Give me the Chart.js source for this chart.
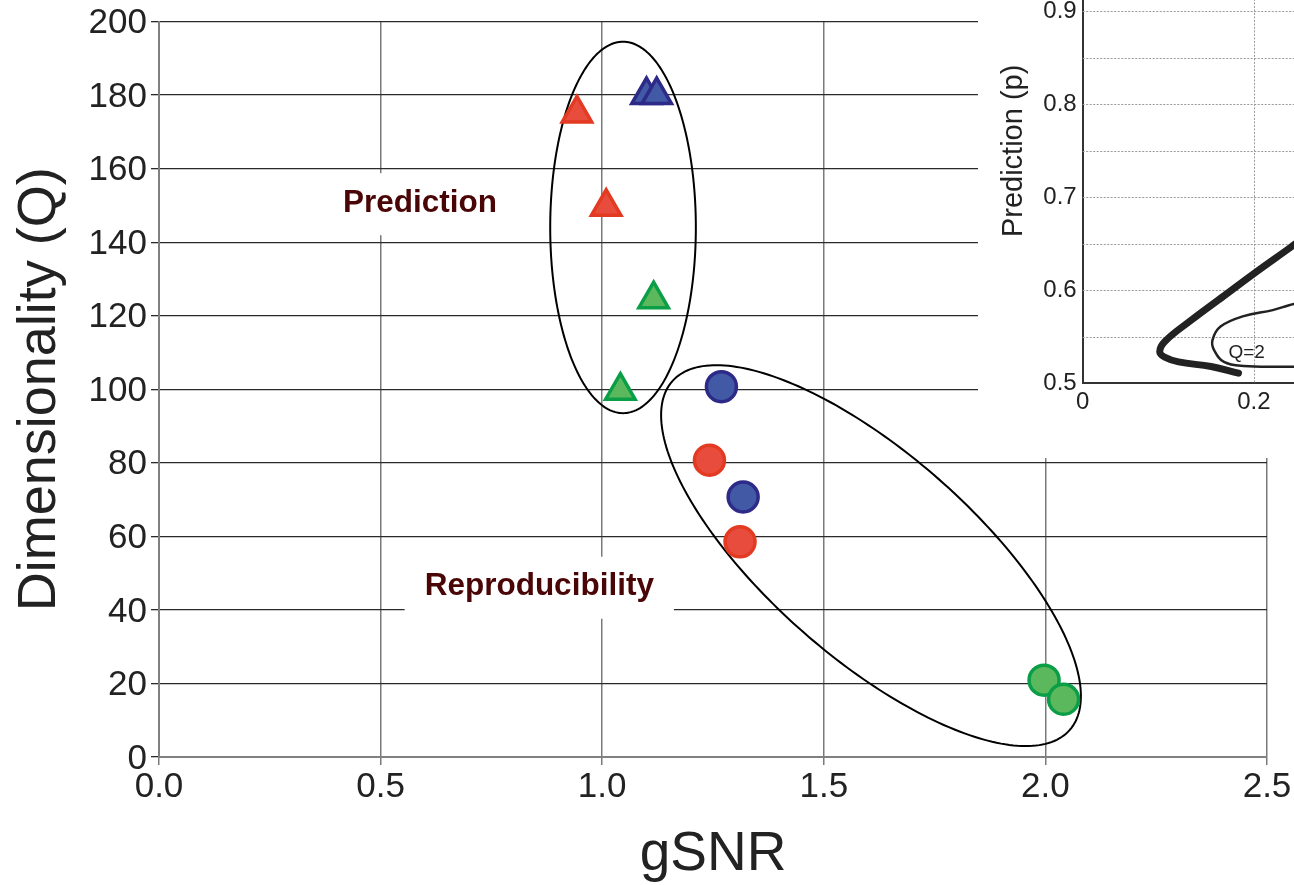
<!DOCTYPE html>
<html>
<head>
<meta charset="utf-8">
<script src="https://cdn.jsdelivr.net/npm/chart.js@4.4.1/dist/chart.umd.min.js"></script>
<style>
  html, body { margin: 0; padding: 0; background: #fff; overflow: hidden; width: 1294px; height: 885px; }
  #wrap { position: relative; width: 1294px; height: 885px; overflow: hidden; }
  #main { position: absolute; left: 0; top: 0; }
  #inset { position: absolute; left: 978px; top: -102px; background: #fff; }
</style>
</head>
<body>
<div id="wrap">
  <canvas id="main" width="1294" height="885"></canvas>
  <canvas id="inset" width="640" height="560"></canvas>
</div>
<script>
// main plot: gSNR vs dimensionality (Q)
const predRedX = [0.943, 1.009];
const predRedQ = [175, 149.6];
const predBlueX = [1.100, 1.123];
const predBlueQ = [180, 180];
const predGreenX = [1.116, 1.041];
const predGreenQ = [124.5, 99.6];

const repBlueX = [1.269, 1.318];
const repBlueQ = [100.7, 70.7];
const repRedX = [1.242, 1.311];
const repRedQ = [80.7, 58.5];
const repGreenX = [1.997, 2.041];
const repGreenQ = [20.9, 15.7];

// inset: prediction (p) curves
const thickX = [0.182, 0.150, 0.112, 0.096, 0.090, 0.096, 0.127, 0.165, 0.200, 0.241, 0.250];
const thickP = [0.511, 0.518, 0.523, 0.528, 0.534, 0.545, 0.568, 0.594, 0.618, 0.645, 0.651];
const thinX = [0.250, 0.241, 0.188, 0.165, 0.1535, 0.1516, 0.161, 0.188, 0.222, 0.241, 0.250];
const thinP = [0.5178, 0.5178, 0.5186, 0.523, 0.5357, 0.5465, 0.561, 0.5722, 0.5787, 0.584, 0.586];

// group outlines (center, end of one axis, end of other axis) and labels
const groupEllipses = [
  { c: [1.047, 144.0], a: [1.047, 194.5], b: [1.2113, 144.0] },
  { c: [1.6065, 54.76], a: [2.055, 7.36], b: [1.4544, 33.89] }
];
const groupLabels = [
  { text: 'Prediction', x: 0.589, y: 150.6 },
  { text: 'Reproducibility', x: 0.858, y: 46.3 }
];
const insetLabel = { text: 'Q=2', x: 0.1916, y: 0.5325 };

const FONT = '"Liberation Sans", Arial, Helvetica, sans-serif';
Chart.defaults.font.family = FONT;

const red = { fill: '#e84c3d', line: '#e33a22' };
const blue = { fill: '#4259a6', line: '#2e2a88' };
const green = { fill: '#5cb85c', line: '#0a9e47' };

function pts(xs, ys) {
  return xs.map((x, i) => ({ x: x, y: ys[i] }));
}

function marks(xs, ys, style, col) {
  return {
    data: pts(xs, ys),
    pointStyle: style,
    pointRadius: style === 'triangle' ? 17 : 15,
    backgroundColor: col.fill,
    borderColor: col.line,
    borderWidth: 3.5
  };
}

const whiteBg = {
  id: 'whiteBg',
  beforeDraw(chart) {
    const ctx = chart.ctx;
    ctx.save();
    ctx.fillStyle = '#fff';
    ctx.fillRect(0, 0, chart.width, chart.height);
    ctx.restore();
  }
};

const groups = {
  id: 'groups',
  beforeDatasetsDraw(chart) {
    const ctx = chart.ctx, xs = chart.scales.x, ys = chart.scales.y;
    ctx.save();
    // outlines
    ctx.strokeStyle = '#000';
    ctx.lineWidth = 2;
    groupEllipses.forEach(e => {
      const cx = xs.getPixelForValue(e.c[0]), cy = ys.getPixelForValue(e.c[1]);
      const ax = xs.getPixelForValue(e.a[0]) - cx, ay = ys.getPixelForValue(e.a[1]) - cy;
      const bx = xs.getPixelForValue(e.b[0]) - cx, by = ys.getPixelForValue(e.b[1]) - cy;
      ctx.beginPath();
      for (let i = 0; i <= 240; i++) {
        const t = i / 240 * Math.PI * 2;
        const px = cx + ax * Math.cos(t) + bx * Math.sin(t);
        const py = cy + ay * Math.cos(t) + by * Math.sin(t);
        if (i === 0) ctx.moveTo(px, py); else ctx.lineTo(px, py);
      }
      ctx.closePath();
      ctx.stroke();
    });
    // labels on white boxes
    ctx.font = 'bold 31.5px ' + FONT;
    ctx.textAlign = 'center';
    ctx.textBaseline = 'middle';
    groupLabels.forEach(l => {
      const px = xs.getPixelForValue(l.x), py = ys.getPixelForValue(l.y);
      const w = ctx.measureText(l.text).width;
      ctx.fillStyle = '#fff';
      ctx.fillRect(px - w / 2 - 20, py - 30, w + 40, 62);
      ctx.fillStyle = '#4a0606';
      ctx.fillText(l.text, px, py);
    });
    ctx.restore();
  }
};

new Chart(document.getElementById('main'), {
  type: 'scatter',
  data: {
    datasets: [
      marks(predRedX, predRedQ, 'triangle', red),
      marks(predBlueX, predBlueQ, 'triangle', blue),
      marks(predGreenX, predGreenQ, 'triangle', green),
      marks(repBlueX, repBlueQ, 'circle', blue),
      marks(repRedX, repRedQ, 'circle', red),
      marks(repGreenX, repGreenQ, 'circle', green)
    ]
  },
  options: {
    responsive: false,
    animation: false,
    events: [],
    layout: { padding: { top: 21, right: 27, left: 0, bottom: 0 } },
    plugins: { legend: { display: false }, tooltip: { enabled: false } },
    scales: {
      x: {
        type: 'linear', min: 0, max: 2.5,
        ticks: { stepSize: 0.5, callback: v => v.toFixed(1), font: { size: 35 }, color: '#222', padding: 1, maxRotation: 0 },
        grid: { color: '#7a7a7a', lineWidth: 1.5, tickLength: 8 },
        border: { color: '#808080', width: 2 },
        title: { display: true, text: 'gSNR', font: { size: 55, lineHeight: 1 }, color: '#222', padding: { top: 0, bottom: 3 } },
        afterFit: s => { s.height = 128; }
      },
      y: {
        type: 'linear', min: 0, max: 200,
        ticks: { stepSize: 20, font: { size: 35, lineHeight: 1 }, color: '#222', padding: 4, labelOffset: 2 },
        grid: { color: '#2a2a2a', lineWidth: 1.3, tickLength: 8 },
        border: { color: '#808080', width: 2 },
        title: { display: true, text: 'Dimensionality (Q)', font: { size: 54, lineHeight: 1 }, color: '#222', padding: { top: 13, bottom: 0 } },
        afterFit: s => { s.width = 159; }
      }
    }
  },
  plugins: [whiteBg, groups]
});

// inset
const dashedGrid = {
  id: 'dashedGrid',
  beforeDatasetsDraw(chart) {
    const ctx = chart.ctx, a = chart.chartArea, xs = chart.scales.x, ys = chart.scales.y;
    ctx.save();
    ctx.strokeStyle = '#9a9a9a';
    ctx.lineWidth = 1;
    ctx.setLineDash([2, 1.5]);
    ys.ticks.forEach(t => {
      if (t.value <= ys.min + 1e-9) return;
      const py = Math.round(ys.getPixelForValue(t.value)) + 0.5;
      ctx.beginPath(); ctx.moveTo(a.left, py); ctx.lineTo(a.right, py); ctx.stroke();
    });
    xs.ticks.forEach(t => {
      if (t.value <= xs.min + 1e-9) return;
      const px = Math.round(xs.getPixelForValue(t.value)) + 0.5;
      ctx.beginPath(); ctx.moveTo(px, a.top); ctx.lineTo(px, a.bottom); ctx.stroke();
    });
    ctx.restore();
  },
  afterDatasetsDraw(chart) {
    const ctx = chart.ctx;
    ctx.save();
    ctx.font = '19px ' + FONT;
    ctx.fillStyle = '#222';
    ctx.textAlign = 'center';
    ctx.textBaseline = 'middle';
    ctx.fillText(insetLabel.text, chart.scales.x.getPixelForValue(insetLabel.x), chart.scales.y.getPixelForValue(insetLabel.y));
    ctx.restore();
  }
};

new Chart(document.getElementById('inset'), {
  type: 'scatter',
  data: {
    datasets: [
      { data: pts(thickX, thickP), showLine: true, borderColor: '#222', borderWidth: 7, pointRadius: 0, tension: 0.4, borderCapStyle: 'round', fill: false },
      { data: pts(thinX, thinP), showLine: true, borderColor: '#222', borderWidth: 2.5, pointRadius: 0, tension: 0.4, fill: false }
    ]
  },
  options: {
    responsive: false,
    animation: false,
    events: [],
    layout: { padding: { top: 7.55, right: 11.5, left: 0, bottom: 0 } },
    plugins: { legend: { display: false }, tooltip: { enabled: false } },
    scales: {
      x: {
        type: 'linear', min: 0, max: 0.6,
        ticks: { stepSize: 0.2, callback: v => (Math.abs(v) < 1e-9 ? '0' : v.toFixed(1)), font: { size: 24 }, color: '#222', padding: 5, maxRotation: 0 },
        grid: { display: false, drawTicks: false },
        border: { color: '#333', width: 2 },
        afterFit: s => { s.height = 74.7; }
      },
      y: {
        type: 'linear', min: 0.5, max: 1.0,
        ticks: { stepSize: 0.05, callback: v => (Math.round(v * 100) % 10 === 0 ? v.toFixed(1) : ''), font: { size: 24 }, color: '#222', padding: 6, autoSkip: false },
        grid: { display: false, drawTicks: false },
        border: { color: '#333', width: 2 },
        title: { display: true, text: 'Prediction (p)', font: { size: 29, lineHeight: 1 }, color: '#222', padding: { top: 21.5, bottom: 0 } },
        afterFit: s => { s.width = 104.7; }
      }
    }
  },
  plugins: [whiteBg, dashedGrid]
});
</script>
</body>
</html>
